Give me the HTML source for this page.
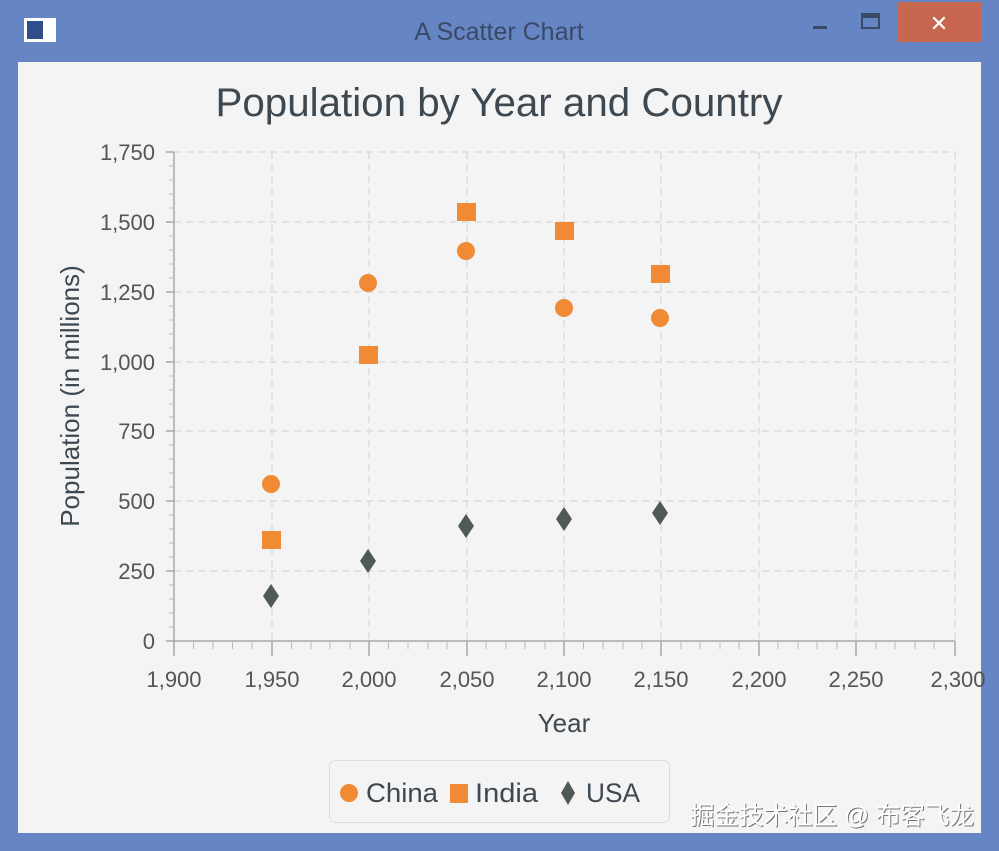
<!DOCTYPE html>
<html><head><meta charset="utf-8"><style>
html,body{margin:0;padding:0;width:999px;height:851px;overflow:hidden;background:#6585c4}
svg{display:block;font-family:"Liberation Sans","Noto Sans CJK SC",sans-serif}
</style></head><body>
<svg width="999" height="851" viewBox="0 0 999 851">
<rect width="999" height="851" fill="#6585c4"/>
<rect x="24" y="18" width="32" height="24" fill="#fff"/>
<rect x="27" y="21" width="16" height="18" fill="#2f4f8a"/>
<text x="499" y="40" font-size="25" fill="#3a4a66" text-anchor="middle">A Scatter Chart</text>
<rect x="813" y="26" width="14" height="3" fill="#3a4a66"/>
<rect x="862" y="14" width="17" height="14" fill="none" stroke="#3a4a66" stroke-width="2"/>
<rect x="862" y="14" width="17" height="4" fill="#3a4a66"/>
<rect x="897" y="2" width="84" height="40" fill="#c8674f"/>
<text x="939" y="31" font-size="22" fill="#fff" text-anchor="middle">✕</text>
<rect x="18" y="62" width="963" height="771" fill="#f4f4f4"/>
<text x="499" y="116" font-size="40" fill="#3e4850" text-anchor="middle" textLength="567" lengthAdjust="spacingAndGlyphs">Population by Year and Country</text>
<g stroke="#dcdcdc" stroke-width="1.5" stroke-dasharray="7,5">
<line x1="174" y1="152" x2="955" y2="152"/><line x1="174" y1="222" x2="955" y2="222"/><line x1="174" y1="292" x2="955" y2="292"/><line x1="174" y1="362" x2="955" y2="362"/><line x1="174" y1="431" x2="955" y2="431"/><line x1="174" y1="501" x2="955" y2="501"/><line x1="174" y1="571" x2="955" y2="571"/>
<line x1="272" y1="152" x2="272" y2="641"/><line x1="369" y1="152" x2="369" y2="641"/><line x1="467" y1="152" x2="467" y2="641"/><line x1="564" y1="152" x2="564" y2="641"/><line x1="661" y1="152" x2="661" y2="641"/><line x1="759" y1="152" x2="759" y2="641"/><line x1="856" y1="152" x2="856" y2="641"/><line x1="955" y1="152" x2="955" y2="641"/>
</g>
<g stroke="#a8a8a8" stroke-width="1.5">
<line x1="174" y1="152" x2="174" y2="641"/><line x1="174" y1="641" x2="955" y2="641"/>
<path d="M166 152h8M166 222h8M166 292h8M166 362h8M166 431h8M166 501h8M166 571h8M166 641h8"/>
<path d="M174 641v15M272 641v15M369 641v15M467 641v15M564 641v15M661 641v15M759 641v15M856 641v15M955 641v15"/>
</g>
<g stroke="#bbb" stroke-width="1">
<path d="M169 166h5M169 180h5M169 194h5M169 208h5M169 236h5M169 250h5M169 264h5M169 278h5M169 306h5M169 320h5M169 334h5M169 348h5M169 376h5M169 390h5M169 404h5M169 417h5M169 445h5M169 459h5M169 473h5M169 487h5M169 515h5M169 529h5M169 543h5M169 557h5M169 585h5M169 599h5M169 613h5M169 627h5"/>
<path d="M193.5 641v8M213 641v8M232.5 641v8M252 641v8M291.5 641v8M311 641v8M330 641v8M350 641v8M388.5 641v8M408 641v8M428 641v8M447 641v8M486 641v8M506 641v8M525 641v8M545 641v8M583.5 641v8M603 641v8M623 641v8M642 641v8M681 641v8M700 641v8M720 641v8M739 641v8M778 641v8M798 641v8M817 641v8M837 641v8M876 641v8M895 641v8M915 641v8M934 641v8"/>
</g>
<g font-size="22" fill="#555" text-anchor="end">
<text x="155" y="160">1,750</text><text x="155" y="230">1,500</text><text x="155" y="300">1,250</text><text x="155" y="370">1,000</text><text x="155" y="439">750</text><text x="155" y="509">500</text><text x="155" y="579">250</text><text x="155" y="649">0</text>
</g>
<g font-size="22" fill="#555" text-anchor="middle">
<text x="174" y="687">1,900</text><text x="272" y="687">1,950</text><text x="369" y="687">2,000</text><text x="467" y="687">2,050</text><text x="564" y="687">2,100</text><text x="661" y="687">2,150</text><text x="759" y="687">2,200</text><text x="856" y="687">2,250</text><text x="958" y="687">2,300</text>
</g>
<text x="564" y="732" font-size="26" fill="#3e4850" text-anchor="middle">Year</text>
<text transform="translate(79,396) rotate(-90)" font-size="26" fill="#3e4850" text-anchor="middle">Population (in millions)</text>
<g fill="#f08a35">
<circle cx="271" cy="484" r="9"/><circle cx="368" cy="283" r="9"/><circle cx="466" cy="251" r="9"/><circle cx="564" cy="308" r="9"/><circle cx="660" cy="318" r="9"/>
<rect x="262" y="531" width="19" height="18"/><rect x="359" y="346" width="19" height="18"/><rect x="457" y="203" width="19" height="18"/><rect x="555" y="222" width="19" height="18"/><rect x="651" y="265" width="19" height="18"/>
</g>
<g fill="#4f5a55">
<path d="M271 584l8 12l-8 12l-8-12z"/><path d="M368 549l8 12l-8 12l-8-12z"/><path d="M466 514l8 12l-8 12l-8-12z"/><path d="M564 507l8 12l-8 12l-8-12z"/><path d="M660 501l8 12l-8 12l-8-12z"/>
</g>
<rect x="329.5" y="760.5" width="340" height="62" rx="6" fill="#f4f4f4" stroke="#ddd"/>
<circle cx="349" cy="793" r="9" fill="#f08a35"/>
<text x="366" y="802" font-size="27" fill="#3e4850" textLength="72" lengthAdjust="spacingAndGlyphs">China</text>
<rect x="450" y="784" width="18" height="19" fill="#f08a35"/>
<text x="475" y="802" font-size="27" fill="#3e4850" textLength="63" lengthAdjust="spacingAndGlyphs">India</text>
<path d="M568 781l7 12l-7 12l-7-12z" fill="#4f5a55"/>
<text x="586" y="802" font-size="27" fill="#3e4850" textLength="54" lengthAdjust="spacingAndGlyphs">USA</text>
<text x="691" y="825" font-size="25" fill="#777" textLength="284" lengthAdjust="spacingAndGlyphs">掘金技术社区 @ 布客飞龙</text>
<text x="690" y="824" font-size="25" fill="#fff" textLength="284" lengthAdjust="spacingAndGlyphs">掘金技术社区 @ 布客飞龙</text>
</svg>
</body></html>
